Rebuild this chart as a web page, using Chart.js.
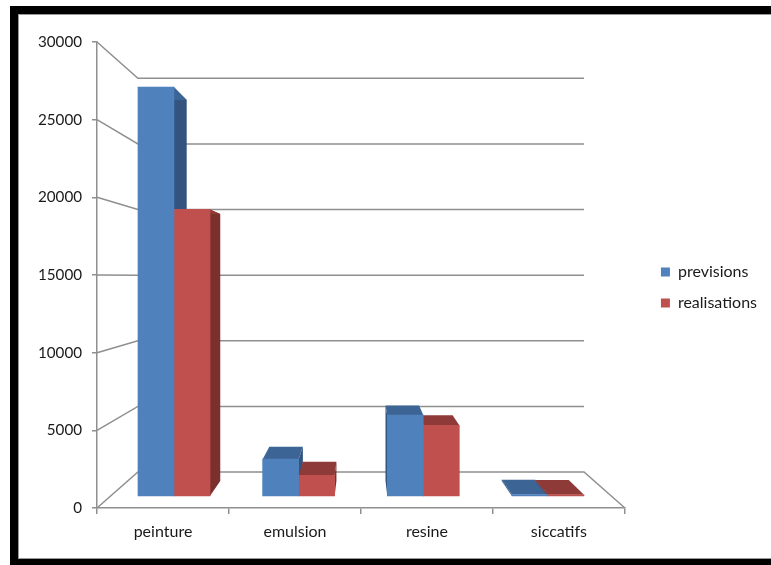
<!DOCTYPE html>
<html>
<head>
<meta charset="utf-8">
<title>previsions / realisations</title>
<script src="https://cdn.jsdelivr.net/npm/chart.js@4"></script>
<style>
    html, body { margin: 0; padding: 0; background: #fff; overflow: hidden; }
    #frame { position: absolute; left: 10px; top: 6px; right: -2px; bottom: 0;
             box-sizing: border-box; border: solid #000; border-width: 8px 0 6px 8px;
             box-shadow: inset 0 0 0 1px #999; }
    #chart { position: absolute; left: 0; top: 0; }
</style>
</head>
<body>
<div id="frame"></div>
<canvas id="chart" width="771" height="565"></canvas>
<script>
const categories = ['peinture', 'emulsion', 'resine', 'siccatifs'];
const previsions = [27750, 2500, 5500, 100];
const realisations = [19450, 1400, 4800, 80];
const yTicks = [0, 5000, 10000, 15000, 20000, 25000, 30000];

const axisColor = '#8f8f8f';
const textColor = '#1a1a1a';
const fontFamily = 'Lato, "Open Sans", sans-serif';

// perspective of the box: everything shrinks toward this point
const vanish = { x: 361, y: 276 };
const wallDepth = 0.845;   // back wall relative to the front axes
const barDepth = 0.932;    // back of a bar relative to its front face

const project = (x, y, k) => ({
    x: vanish.x + (x - vanish.x) * k,
    y: vanish.y + (y - vanish.y) * k
});

function fillPoly(ctx, points, color) {
    ctx.fillStyle = color;
    ctx.beginPath();
    points.forEach((p, i) => i ? ctx.lineTo(p.x, p.y) : ctx.moveTo(p.x, p.y));
    ctx.closePath();
    ctx.fill();
}

// floor and wall lines, taken from the front axes
const wallsPlugin = {
    id: 'walls',
    // x axis box is kept short so the legend centres higher, give the labels their room back
    afterLayout(chart) {
        chart.scales.x.bottom += 24;
    },
    beforeDatasetsDraw(chart) {
        const { ctx, scales } = chart;
        const left = scales.x.left, right = scales.x.right;
        ctx.save();
        ctx.strokeStyle = axisColor;
        ctx.lineWidth = 1.5;
        yTicks.forEach(value => {
            const y = scales.y.getPixelForValue(value);
            const backLeft = project(left, y, wallDepth);
            const backRight = project(right, y, wallDepth);
            ctx.beginPath();
            ctx.moveTo(left, y);
            ctx.lineTo(backLeft.x, backLeft.y);
            ctx.lineTo(backRight.x, backRight.y);
            if (value === 0) ctx.lineTo(right, y);
            ctx.stroke();
        });
        ctx.restore();
    }
};

// top and side faces of the bars, the fronts are the chart's own bars
const facesPlugin = {
    id: 'faces',
    beforeDatasetsDraw(chart) {
        const { ctx } = chart;
        ctx.save();
        chart.data.datasets.forEach((dataset, i) => {
            chart.getDatasetMeta(i).data.forEach(bar => {
                const { x, y, base, width } = bar.getProps(['x', 'y', 'base', 'width']);
                const x1 = x - width / 2, x2 = x + width / 2;
                const sideX = x2 < vanish.x ? x2 : x1;
                fillPoly(ctx, [
                    { x: sideX, y }, { x: sideX, y: base },
                    project(sideX, base, barDepth), project(sideX, y, barDepth)
                ], dataset.sideColor);
                fillPoly(ctx, [
                    { x: x1, y }, { x: x2, y },
                    project(x2, y, barDepth), project(x1, y, barDepth)
                ], dataset.topColor);
            });
        });
        ctx.restore();
    }
};

new Chart(document.getElementById('chart'), {
    type: 'bar',
    data: {
        labels: categories,
        datasets: [
            {
                label: 'previsions',
                data: previsions.map((v, i) => ({ x: i, y: v })),
                backgroundColor: '#4f81bd',
                topColor: '#3c6494',
                sideColor: '#32547f',
                xAxisID: 'xBars',
                yAxisID: 'yBars',
                barThickness: 36
            },
            {
                label: 'realisations',
                data: realisations.map((v, i) => ({ x: i, y: v })),
                backgroundColor: '#c0504d',
                topColor: '#8e3a38',
                sideColor: '#7c302e',
                xAxisID: 'xBars',
                yAxisID: 'yBars',
                barThickness: 36
            }
        ]
    },
    plugins: [wallsPlugin, facesPlugin],
    options: {
        responsive: false,
        animation: false,
        layout: { padding: { top: 42, bottom: 32, left: 0, right: 4 } },
        scales: {
            x: {
                type: 'category',
                position: 'bottom',
                offset: true,
                border: { color: axisColor, width: 1.5 },
                grid: { drawOnChartArea: false, color: axisColor, lineWidth: 1.5, tickLength: 6, offset: true },
                ticks: { color: textColor, font: { family: fontFamily, size: 16 }, padding: 8, maxRotation: 0 },
                afterFit: scale => { scale.height = 25; }
            },
            y: {
                type: 'linear',
                position: 'left',
                min: 0,
                max: 30000,
                border: { color: axisColor, width: 1.5 },
                grid: { drawOnChartArea: false, color: axisColor, lineWidth: 1.5, tickLength: 5 },
                ticks: {
                    stepSize: 5000,
                    color: textColor,
                    font: { family: fontFamily, size: 15.2 },
                    padding: 10,
                    callback: value => String(value)
                },
                afterFit: scale => { scale.width = 97; }
            },
            // the bars stand a little behind the front axes, so they get their own scales
            xBars: {
                type: 'linear',
                axis: 'x',
                display: false,
                offset: false,
                min: -0.6176,
                max: 3.6176
            },
            yBars: {
                type: 'linear',
                axis: 'y',
                position: 'right',
                min: -814,
                max: 30814,
                border: { display: false },
                grid: { display: false },
                ticks: { display: false },
                afterFit: scale => { scale.width = 21; }
            }
        },
        plugins: {
            legend: {
                position: 'right',
                labels: {
                    color: textColor,
                    font: { family: fontFamily, size: 16 },
                    boxWidth: 9,
                    boxHeight: 9,
                    padding: 15
                },
                onClick: null
            },
            tooltip: { enabled: false }
        }
    }
});
</script>
</body>
</html>
